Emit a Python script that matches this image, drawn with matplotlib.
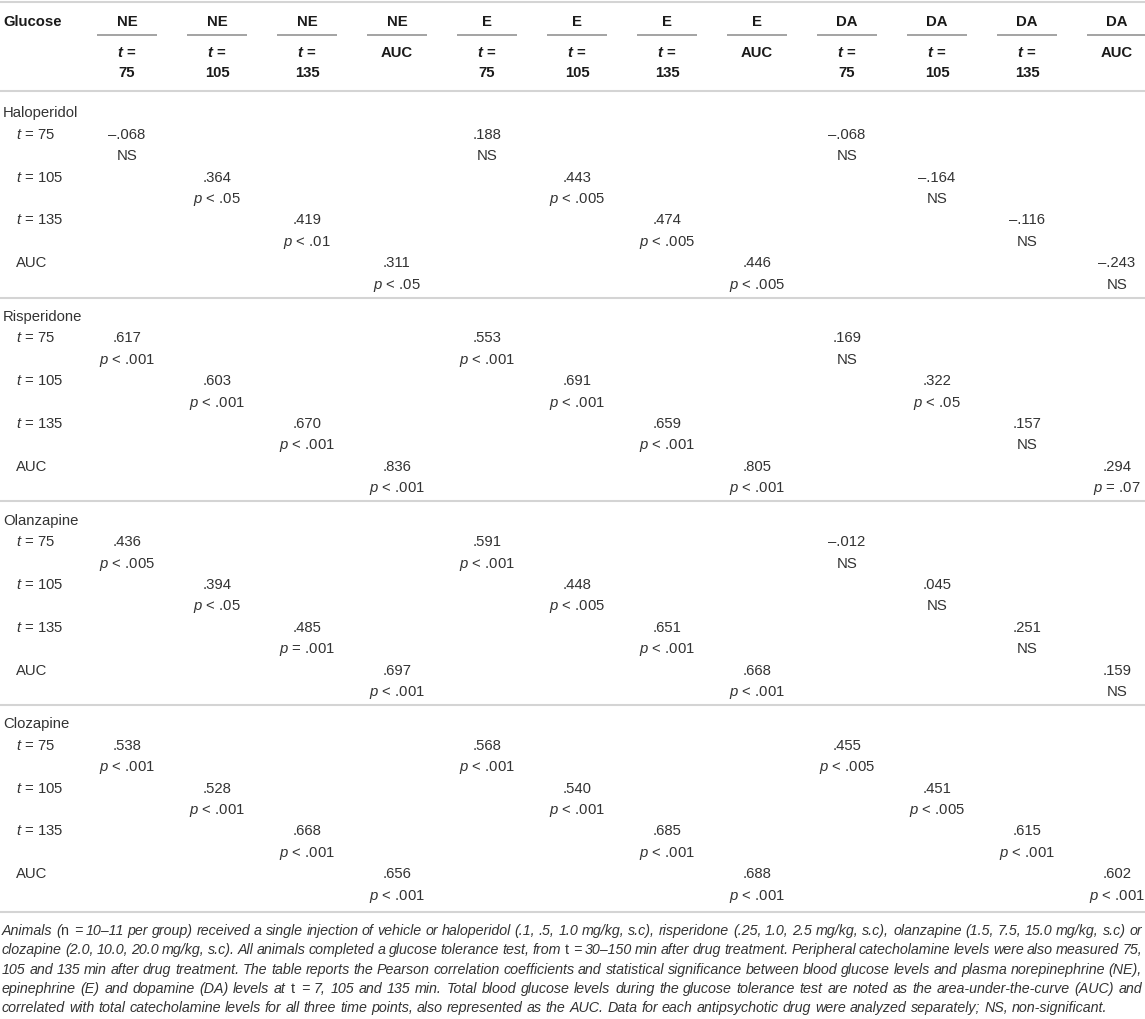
import matplotlib
matplotlib.use("Agg")
import matplotlib.pyplot as plt

plt.rcParams['font.family'] = ['Liberation Sans', 'DejaVu Sans']
plt.rcParams['mathtext.fontset'] = 'custom'
plt.rcParams['mathtext.rm'] = 'Liberation Sans'
plt.rcParams['mathtext.it'] = 'Liberation Sans:italic'
plt.rcParams['mathtext.bf'] = 'Liberation Sans:bold'
plt.rcParams['mathtext.bfit'] = 'Liberation Sans:italic:bold'

# ---------------- data ----------------
analytes = ["NE", "E", "DA"]
time_points = ["75", "105", "135", "AUC"]
row_labels = ["t = 75", "t = 105", "t = 135", "AUC"]
drugs = ["Haloperidol", "Risperidone", "Olanzapine", "Clozapine"]

# correlation coefficients [analyte][time point]
haloperidol_r = [[-0.068, 0.364, 0.419, 0.311],
                 [0.188, 0.443, 0.474, 0.446],
                 [-0.068, -0.164, -0.116, -0.243]]
haloperidol_p = [["NS", "< .05", "< .01", "< .05"],
                 ["NS", "< .005", "< .005", "< .005"],
                 ["NS", "NS", "NS", "NS"]]

risperidone_r = [[0.617, 0.603, 0.670, 0.836],
                 [0.553, 0.691, 0.659, 0.805],
                 [0.169, 0.322, 0.157, 0.294]]
risperidone_p = [["< .001", "< .001", "< .001", "< .001"],
                 ["< .001", "< .001", "< .001", "< .001"],
                 ["NS", "< .05", "NS", "= .07"]]

olanzapine_r = [[0.436, 0.394, 0.485, 0.697],
                [0.591, 0.448, 0.651, 0.668],
                [-0.012, 0.045, 0.251, 0.159]]
olanzapine_p = [["< .005", "< .05", "= .001", "< .001"],
                ["< .001", "< .005", "< .001", "< .001"],
                ["NS", "NS", "NS", "NS"]]

clozapine_r = [[0.538, 0.528, 0.668, 0.656],
               [0.568, 0.540, 0.685, 0.688],
               [0.455, 0.451, 0.615, 0.602]]
clozapine_p = [["< .001", "< .001", "< .001", "< .001"],
               ["< .001", "< .001", "< .001", "< .001"],
               ["< .005", "< .005", "< .001", "< .001"]]

all_r = [haloperidol_r, risperidone_r, olanzapine_r, clozapine_r]
all_p = [haloperidol_p, risperidone_p, olanzapine_p, clozapine_p]

footnote_lines = [
    r"Animals ($\mathrm{n}$ = 10–11 per group) received a single injection of vehicle or haloperidol (.1, .5, 1.0 mg/kg, s.c), risperidone (.25, 1.0, 2.5 mg/kg, s.c), olanzapine (1.5, 7.5, 15.0 mg/kg, s.c) or",
    r"clozapine (2.0, 10.0, 20.0 mg/kg, s.c). All animals completed a glucose tolerance test, from $\mathrm{t}$ = 30–150 min after drug treatment. Peripheral catecholamine levels were also measured 75,",
    r"105 and 135 min after drug treatment. The table reports the Pearson correlation coefficients and statistical significance between blood glucose levels and plasma norepinephrine (NE),",
    r"epinephrine (E) and dopamine (DA) levels at $\mathrm{t}$ = 7, 105 and 135 min. Total blood glucose levels during the glucose tolerance test are noted as the area-under-the-curve (AUC) and",
    r"correlated with total catecholamine levels for all three time points, also represented as the AUC. Data for each antipsychotic drug were analyzed separately; NS, non-significant.",
]

# ---------------- layout ----------------
W, H = 1145, 1019
fig = plt.figure(figsize=(W / 100, H / 100), dpi=100)
ax = fig.add_axes([0, 0, 1, 1])
ax.set_xlim(0, W)
ax.set_ylim(H, 0)
ax.axis("off")

TXT = "#333333"
HDR = "#1a1a1a"
LINE = "#d4d4d4"
FS = 10.7
BL = 0.716 * FS * 100 / 72 / 2   # baseline offset from visual centre (px)

col0, col_step = 127, 90
cols = [col0 + col_step * k for k in range(12)]

def fmt_r(v):
    s = f"{abs(v):.3f}".lstrip("0")
    return ("\u2013" if v < 0 else "") + s

def fmt_p(s):
    return s if s == "NS" else r"$\it{p}$ " + s

def hline(y, color=LINE, lw=1.5, x0=0, x1=W):
    ax.plot([x0, x1], [y, y], color=color, lw=lw, solid_capstyle="butt")

def put(x, y, s, ha="center", bold=False, color=TXT):
    ax.text(x, y + BL, s, fontsize=FS, fontweight="bold" if bold else "normal",
            color=color, va="baseline", ha=ha)

# header
hline(1.5)
put(3, 21, "Glucose", ha="left", bold=True, color=HDR)
for a_i, an in enumerate(analytes):
    for t_i, tp in enumerate(time_points):
        c = cols[a_i * 4 + t_i]
        put(c, 21, an, bold=True, color=HDR)
        hline(34.5, color="#8a8a8a", lw=1.1, x0=c - 30, x1=c + 30)
        if tp == "AUC":
            put(c, 52, tp, bold=True, color=HDR)
        else:
            put(c, 52, r"$\mathbfit{t}$ =", bold=True, color=HDR)
            put(c, 72, tp, bold=True, color=HDR)
hline(91)

# body
group_y0, group_step, line_step = 112, 203.7, 21.4
for g, drug in enumerate(drugs):
    gy = group_y0 + g * group_step
    if g > 0:
        hline(gy - 18)
    put(3, gy, drug, ha="left")
    for t_i, lab in enumerate(row_labels):
        y1 = gy + line_step * (1 + 2 * t_i)
        y2 = gy + line_step * (2 + 2 * t_i)
        lab_txt = lab if lab == "AUC" else r"$\it{t}$" + lab[1:]
        put(16, y1, lab_txt, ha="left")
        for a_i in range(3):
            c = cols[a_i * 4 + t_i]
            put(c, y1, fmt_r(all_r[g][a_i][t_i]))
            put(c, y2, fmt_p(all_p[g][a_i][t_i]))
hline(group_y0 + 3 * group_step + 189)

# footnote (justified)
fig.canvas.draw()
rend = fig.canvas.get_renderer()

def text_w(s, fs):
    t = ax.text(0, 500, s, fontsize=fs, fontstyle="italic")
    w = t.get_window_extent(rend).width
    t.remove()
    return w

fs0 = 10.0
x_left, x_right = 2, 1142
fn_fs = fs0 * 1108 / text_w(footnote_lines[-1], fs0)
fn_bl = 0.716 * fn_fs * 100 / 72 / 2
space_w = text_w("a a", fn_fs) - text_w("aa", fn_fs)
fn_y0, fn_step = 930, 19.25
for li, line in enumerate(footnote_lines):
    y = fn_y0 + li * fn_step + fn_bl
    words = line.split(" ")
    widths = [text_w(w, fn_fs) for w in words]
    if li < len(footnote_lines) - 1:
        gap = max((x_right - x_left - sum(widths)) / (len(words) - 1), 1.5)
    else:
        gap = space_w
    x = x_left
    for w, wd in zip(words, widths):
        ax.text(x, y, w, fontsize=fn_fs, fontstyle="italic", color=TXT,
                va="baseline", ha="left")
        x += wd + gap

fig.savefig("out.png", dpi=100)
